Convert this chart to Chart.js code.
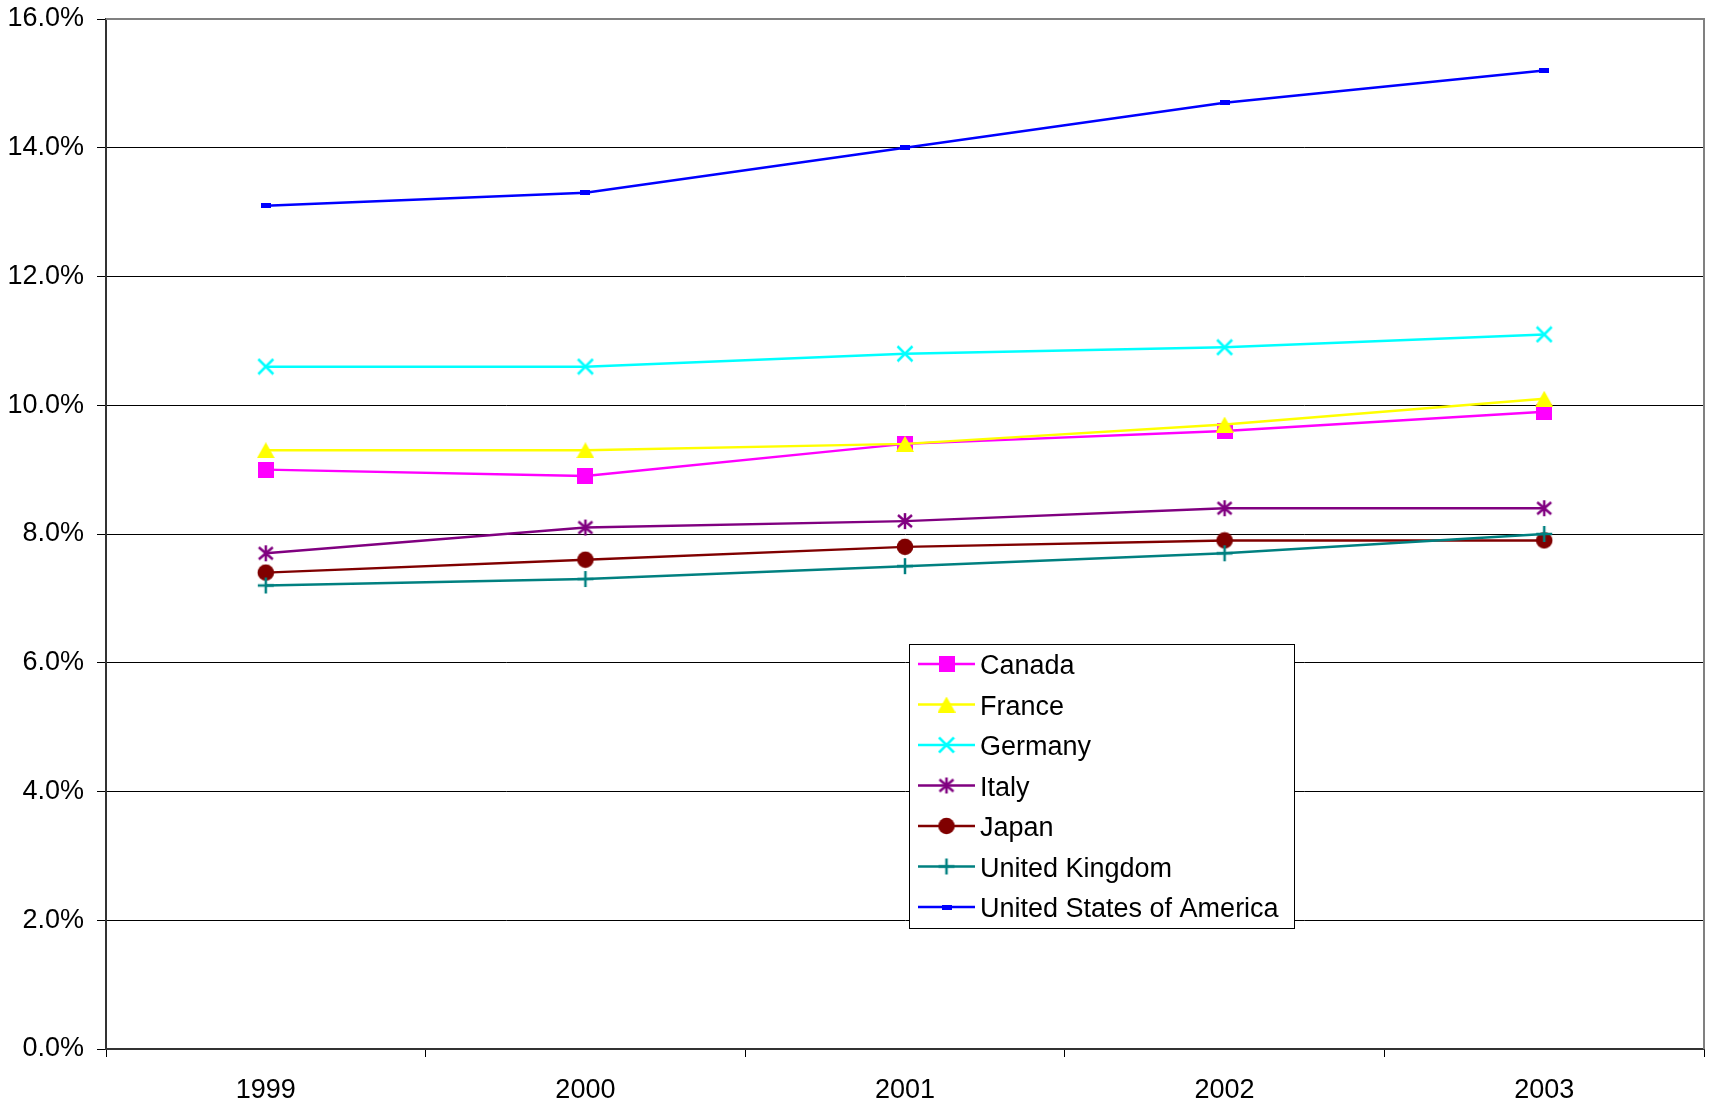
<!DOCTYPE html>
<html><head><meta charset="utf-8">
<script src="https://cdn.jsdelivr.net/npm/chart.js@4.4.1/dist/chart.umd.min.js"></script>
<style>html,body{margin:0;padding:0;background:#fff;}#wrap{width:1715px;height:1102px;}</style>
</head><body><div id="wrap"><canvas id="c" width="1715" height="1102"></canvas></div>
<script>
// ---- data ----
const years = ['1999', '2000', '2001', '2002', '2003'];
const seriesNames = ['Canada', 'France', 'Germany', 'Italy', 'Japan', 'United Kingdom', 'United States of America'];
const canada  = [9.0, 8.9, 9.4, 9.6, 9.9];
const france  = [9.3, 9.3, 9.4, 9.7, 10.1];
const germany = [10.6, 10.6, 10.8, 10.9, 11.1];
const italy   = [7.7, 8.1, 8.2, 8.4, 8.4];
const japan   = [7.4, 7.6, 7.8, 7.9, 7.9];
const uk      = [7.2, 7.3, 7.5, 7.7, 8.0];
const usa     = [13.1, 13.3, 14.0, 14.7, 15.2];
const yTicks  = [0, 2, 4, 6, 8, 10, 12, 14, 16];

const FONT = "'Liberation Sans', Arial, sans-serif";
const FSIZE = 27;

// ---- marker images ----
function mk(w, h, draw) { const c = document.createElement('canvas'); c.width = w; c.height = h; draw(c.getContext('2d'), w, h); return c; }
const mSquare = mk(16, 16, g => { g.fillStyle = '#FF00FF'; g.fillRect(0, 0, 16, 16); });
const mTri = mk(18, 16, g => { g.fillStyle = '#FFFF00'; g.beginPath(); g.moveTo(9, 0); g.lineTo(18, 16); g.lineTo(0, 16); g.closePath(); g.fill(); });
const mX = mk(18, 18, g => { g.strokeStyle = '#00FFFF'; g.lineWidth = 2.5; g.beginPath(); g.moveTo(1.5, 1.5); g.lineTo(16.5, 16.5); g.moveTo(16.5, 1.5); g.lineTo(1.5, 16.5); g.stroke(); });
const mStar = mk(18, 18, g => { g.strokeStyle = '#800080'; g.lineWidth = 2.5; g.beginPath(); g.moveTo(9, 1); g.lineTo(9, 17); g.moveTo(2, 3); g.lineTo(16, 15); g.moveTo(16, 3); g.lineTo(2, 15); g.stroke(); });
const mCircle = mk(18, 18, g => { g.fillStyle = '#800000'; g.beginPath(); g.arc(9, 9, 8.3, 0, Math.PI * 2); g.fill(); });
const mPlus = mk(18, 18, g => { g.strokeStyle = '#008080'; g.lineWidth = 2.5; g.beginPath(); g.moveTo(9, 1); g.lineTo(9, 17); g.moveTo(1, 9); g.lineTo(17, 9); g.stroke(); });
const mDash = mk(10, 5, g => { g.fillStyle = '#0000FF'; g.fillRect(0, 0, 10, 5); });

const seriesData = [canada, france, germany, italy, japan, uk, usa];
const seriesColors = ['#FF00FF', '#FFFF00', '#00FFFF', '#800080', '#800000', '#008080', '#0000FF'];
const seriesMarkers = [mSquare, mTri, mX, mStar, mCircle, mPlus, mDash];

const datasets = seriesNames.map((name, i) => ({
  label: name,
  data: seriesData[i],
  borderColor: seriesColors[i],
  backgroundColor: seriesColors[i],
  borderWidth: 2.5,
  pointStyle: seriesMarkers[i],
  pointRadius: 8,
  pointHoverRadius: 8,
  tension: 0,
  fill: false,
  order: seriesNames.length - i
}));

const plotBorder = {
  id: 'plotBorder',
  beforeDatasetsDraw(chart) {
    const { ctx, chartArea: a } = chart;
    ctx.save();
    ctx.strokeStyle = '#808080';
    ctx.lineWidth = 2;
    ctx.beginPath();
    ctx.moveTo(a.left, a.top); ctx.lineTo(a.right, a.top); ctx.lineTo(a.right, a.bottom);
    ctx.stroke();
    ctx.restore();
  }
};

const legendBox = { x: 909, y: 644, w: 385, h: 284, row0: 664, step: 40.5, l0: 918, l1: 975, tx: 980 };
const boxLegend = {
  id: 'boxLegend',
  afterDraw(chart) {
    const ctx = chart.ctx, L = legendBox;
    ctx.save();
    ctx.fillStyle = '#fff';
    ctx.fillRect(L.x, L.y, L.w, L.h);
    ctx.strokeStyle = '#000'; ctx.lineWidth = 1;
    ctx.strokeRect(L.x + 0.5, L.y + 0.5, L.w, L.h);
    chart.data.datasets.forEach((ds, i) => {
      const y = L.row0 + i * L.step;
      ctx.strokeStyle = ds.borderColor; ctx.lineWidth = ds.borderWidth;
      ctx.beginPath(); ctx.moveTo(L.l0, y); ctx.lineTo(L.l1, y); ctx.stroke();
      const m = ds.pointStyle, cx = (L.l0 + L.l1) / 2;
      ctx.drawImage(m, cx - m.width / 2, y - m.height / 2);
      ctx.fillStyle = '#000'; ctx.font = FSIZE + 'px ' + FONT; ctx.textBaseline = 'middle'; ctx.textAlign = 'left';
      ctx.fillText(ds.label, L.tx, y + 3);
    });
    ctx.restore();
  }
};

new Chart(document.getElementById('c'), {
  type: 'line',
  data: { labels: years, datasets },
  options: {
    responsive: false,
    animation: false,
    devicePixelRatio: 1,
    layout: { padding: { left: 0, right: 11, top: 19, bottom: 0 } },
    plugins: { legend: { display: false }, tooltip: { enabled: false }, title: { display: false } },
    scales: {
      x: {
        type: 'category',
        offset: true,
        afterFit(s) { s.height = 53; s.paddingLeft = 0; s.paddingRight = 0; },
        grid: { display: true, drawOnChartArea: false, offset: true, tickLength: 8, color: '#000', lineWidth: 1 },
        border: { display: true, color: '#333', width: 2 },
        ticks: { color: '#000', font: { family: FONT, size: FSIZE }, padding: 17, maxRotation: 0 }
      },
      y: {
        min: 0, max: 16,
        afterFit(s) { s.width = 106; s.paddingTop = 0; s.paddingBottom = 0; },
        afterBuildTicks(s) { s.ticks = yTicks.map(v => ({ value: v })); },
        grid: { color: '#000', lineWidth: 1, tickLength: 9, tickColor: '#000' },
        border: { display: true, color: '#333', width: 2 },
        ticks: { color: '#000', font: { family: FONT, size: FSIZE }, padding: 13, callback: v => v.toFixed(1) + '%' }
      }
    }
  },
  plugins: [plotBorder, boxLegend]
});
</script></body></html>
